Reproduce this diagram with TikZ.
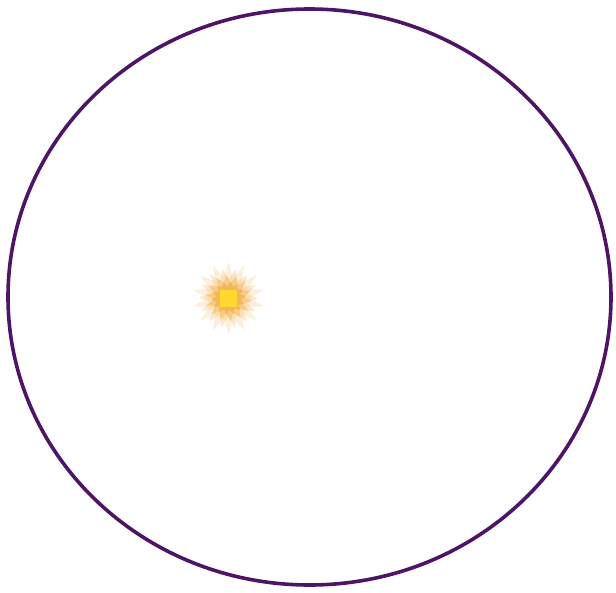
\documentclass[tikz,border=0pt]{standalone}
\usetikzlibrary{shapes.geometric}
\definecolor{ringpurple}{HTML}{4E1466}
\definecolor{glow}{HTML}{F2A93B}
\definecolor{core}{HTML}{FFD830}
\tikzset{
  ring/.style={draw=ringpurple, line width=3.6pt, fill=none},
  glowstar/.style={star, star points=14, fill=glow, draw=none, inner sep=0pt},
  corebox/.style={rectangle, fill=core, draw=none, minimum size=17pt, inner sep=0pt}
}
\begin{document}
\begin{tikzpicture}[x=1pt,y=-1pt]
  \useasboundingbox (0,0) rectangle (616,592);
  \node[ring, ellipse, minimum width=603pt, minimum height=576pt, inner sep=0pt] (boundary) at (309.5,297) {};
  \node[glowstar, star point ratio=1.7, minimum size=72pt, opacity=0.18] (glow1) at (228.5,298) {};
  \node[glowstar, star point ratio=1.6, minimum size=60pt, opacity=0.25, rotate=12] (glow2) at (228.5,298) {};
  \node[glowstar, star point ratio=1.5, minimum size=46pt, opacity=0.38, rotate=5] (glow3) at (228.5,298) {};
  \node[glowstar, star point ratio=1.4, minimum size=34pt, opacity=0.6, rotate=18] (glow4) at (228.5,298) {};
  \node[corebox] (sun) at (228.5,298) {};
\end{tikzpicture}
\end{document}
